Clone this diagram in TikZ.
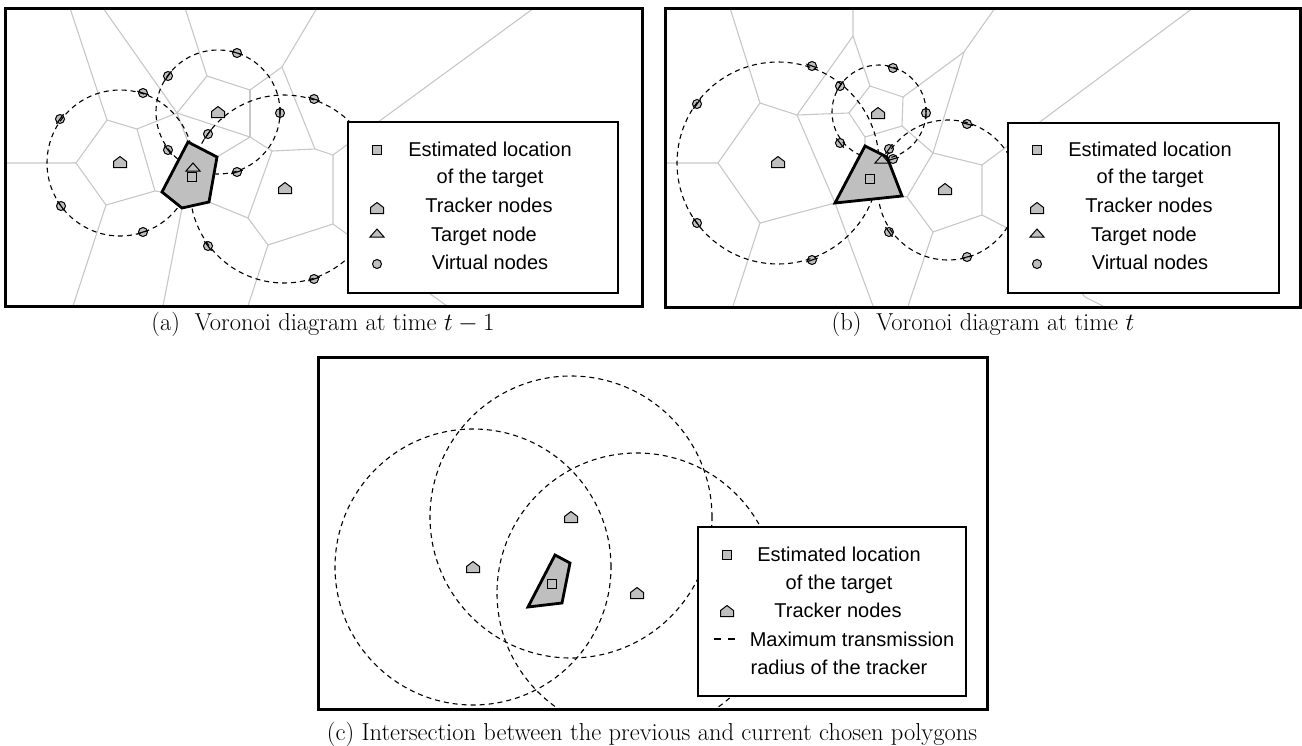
\documentclass[tikz,border=0pt]{standalone}
\usepackage{fontspec}
\newfontfamily\legfont{Liberation Sans}
\usetikzlibrary{calc}
\tikzset{
  frame/.style={draw, line width=3pt},
  vor/.style={draw=black!22, line width=1.1pt},
  rng/.style={draw, line width=1.1pt, dash pattern=on 5pt off 4pt},
  poly/.style={draw, line width=2.8pt, fill=black!25, line join=miter},
  mk/.style={draw, line width=1pt, fill=black!25},
  legbox/.style={draw, line width=1.2pt, fill=white},
  legtxt/.style={font=\legfont\fontsize{20}{24}\selectfont, inner sep=0pt, anchor=base},
  captxt/.style={font=\fontsize{24.5}{29}\selectfont, inner sep=0pt},
  trk/.pic={\path[mk] (-6.5,5.5) -- (6.5,5.5) -- (6.5,-0.5) -- (0,-5.5) -- (-6.5,-0.5) -- cycle;},
  sqr/.pic={\path[mk] (-4.5,-4.5) rectangle (4.5,4.5);},
  tri/.pic={\path[mk] (-7,4) -- (7,4) -- (0,-4) -- cycle;},
  vcirc/.pic={\path[mk] (0,0) circle[radius=4.5pt];},
}
\newcommand\vnd[2]{\pic at (#1) {vcirc}; \draw[line width=1.1pt] ($(#1)!6pt!90:(#2)$) -- ($(#1)!6pt!-90:(#2)$);}
\begin{document}
\begin{tikzpicture}[x=1pt,y=-1pt]
\useasboundingbox (0,0) rectangle (1302,745);
%================ panel (a)
\coordinate (a1) at (107,120); \coordinate (a2) at (76,163); \coordinate (a3) at (106,205);
\coordinate (a4) at (155,191); \coordinate (a5) at (137,129); \coordinate (a6) at (177,113);
\coordinate (a7) at (207,76); \coordinate (a8) at (250,90); \coordinate (a9) at (250,137);
\coordinate (a10) at (282,67); \coordinate (a11) at (272,151); \coordinate (a12) at (315,149);
\coordinate (a13) at (333,155); \coordinate (a14) at (333,224); \coordinate (a15) at (268,245);
\coordinate (a16) at (248,218);
\coordinate (ap1) at (188,142); \coordinate (ap2) at (217,157); \coordinate (ap3) at (209,202);
\coordinate (ap4) at (182,208); \coordinate (ap5) at (162,192);
\draw[vor] (70,8) -- (a1) -- (a2) -- (5,163);
\draw[vor] (a2) -- (a3) -- (73,306);
\draw[vor] (a3) -- (a4) -- (ap5);
\draw[vor] (a1) -- (a5) -- (a4);
\draw[vor] (a5) -- (a6);
\draw[vor] (103,8) -- (a6) -- (ap1);
\draw[vor] (a6) -- (a7) -- (185,8);
\draw[vor] (a7) -- (a8) -- (a10) -- (317,8);
\draw[vor] (a8) -- (a9);
\draw[vor] (a6) -- (a9) -- (ap2);
\draw[vor] (a9) -- (a11) -- (a12) -- (a13) -- (534,8);
\draw[vor] (a10) -- (a12);
\draw[vor] (a13) -- (a14) -- (447,306);
\draw[vor] (a11) -- (a16) -- (ap3);
\draw[vor] (a16) -- (a15) -- (a14);
\draw[vor] (a15) -- (248,306);
\draw[vor] (ap4) -- (163,306);
\coordinate (ca1) at (120,163); \coordinate (ca2) at (218,112); \coordinate (ca3) at (284,189);
\vnd{237,53}{ca2} \vnd{168,76}{ca2} \vnd{143,93}{ca1} \vnd{60,119}{ca1}
\vnd{314,99}{ca3} \vnd{280,113}{ca2} \vnd{208,134}{ca3} \vnd{168,150}{ca2}
\vnd{237,172}{ca2} \vnd{61,206}{ca1} \vnd{143,232}{ca1} \vnd{208,246}{ca3} \vnd{314,279}{ca3}
\draw[rng] (ca1) circle[radius=73pt];
\draw[rng] (ca2) circle[radius=62pt];
\draw[rng] (ca3) circle[radius=94pt];
\path[poly] (ap1) -- (ap2) -- (ap3) -- (ap4) -- (ap5) -- cycle;
\pic at (120,162) {trk}; \pic at (218,112) {trk}; \pic at (285,188) {trk};
\pic at (193,167) {tri}; \pic at (192,177) {sqr};
\draw[legbox] (348,122) rectangle (618,293);
\pic at (377,150) {sqr};
\node[legtxt] (la1) at (490,156) {Estimated location};
\node[legtxt] (la2) at (490,183) {of the target};
\pic at (377,208) {trk};
\node[legtxt] (la3) at (489,212) {Tracker nodes};
\pic at (377,233) {tri};
\node[legtxt] (la4) at (484,241) {Target node};
\pic at (377,264) {vcirc};
\node[legtxt] (la5) at (490,269) {Virtual nodes};
\draw[frame] (5,8) rectangle (642,306);
\node[captxt] (capa) at (323,324) {(a)\ \ Voronoi diagram at time $t-1$};
%================ panel (b)
\coordinate (b1) at (760,103); \coordinate (b2) at (718,163); \coordinate (b3) at (760,223);
\coordinate (b5) at (797,115); \coordinate (b6) at (849,113); \coordinate (b7) at (853,36);
\coordinate (b8) at (870,86); \coordinate (b9) at (903,97); \coordinate (b10) at (902,126);
\coordinate (b11) at (865,137); \coordinate (b12) at (964,52); \coordinate (b13) at (933,153);
\coordinate (b14) at (982,165); \coordinate (b15) at (982,215); \coordinate (b16) at (933,232);
\coordinate (b17) at (907,197);
\coordinate (bp1) at (865,146); \coordinate (bp2) at (887,157); \coordinate (bp3) at (902,196);
\coordinate (bp4) at (835,203);
\draw[vor] (730,8) -- (b1) -- (b2) -- (665,163);
\draw[vor] (b2) -- (b3) -- (733,306);
\draw[vor] (b3) -- (bp4) -- (873,306);
\draw[vor] (b1) -- (b5) -- (bp4);
\draw[vor] (b5) -- (b6);
\draw[vor] (b5) -- (b7) -- (853,8);
\draw[vor] (b7) -- (b8) -- (b9) -- (b12) -- (995,8);
\draw[vor] (b6) -- (b8);
\draw[vor] (b6) -- (b11) -- (bp1);
\draw[vor] (b9) -- (b10) -- (b11);
\draw[vor] (b10) -- (b13) -- (b14) -- (1193,8);
\draw[vor] (b12) -- (b13);
\draw[vor] (b13) -- (b17) -- (bp3);
\draw[vor] (b17) -- (b16) -- (b15) -- (b14);
\draw[vor] (b16) -- (908,306);
\draw[vor] (b15) -- (1040,245) -- (1085,297) -- (1103,306);
\coordinate (cb1) at (778,163); \coordinate (cb2) at (879,112); \coordinate (cb3) at (948,190);
\vnd{697,104}{cb1} \vnd{812,66}{cb1} \vnd{697,223}{cb1} \vnd{812,260}{cb1}
\vnd{840,143}{cb2} \vnd{840,86}{cb2} \vnd{893,68}{cb2} \vnd{926,113}{cb2} \vnd{893,159}{cb2}
\vnd{889,149}{cb3} \vnd{967,124}{cb3} \vnd{889,232}{cb3} \vnd{967,257}{cb3}
\draw[rng] (cb1) circle[radius=101pt];
\draw[rng] (cb2) circle[radius=47pt];
\draw[rng] (cb3) circle[radius=70pt];
\path[poly] (bp1) -- (bp2) -- (bp3) -- (bp4) -- cycle;
\pic at (778,162) {trk}; \pic at (878,113) {trk}; \pic at (945,189) {trk};
\pic at (882,159) {tri}; \pic at (870,179) {sqr};
\draw[legbox] (1008,123) rectangle (1279,293);
\pic at (1037,150) {sqr};
\node[legtxt] (lb1) at (1150,156) {Estimated location};
\node[legtxt] (lb2) at (1150,183) {of the target};
\pic at (1037,208) {trk};
\node[legtxt] (lb3) at (1149,212) {Tracker nodes};
\pic at (1037,233) {tri};
\node[legtxt] (lb4) at (1144,241) {Target node};
\pic at (1037,264) {vcirc};
\node[legtxt] (lb5) at (1150,269) {Virtual nodes};
\draw[frame] (665,8) rectangle (1300,307);
\node[captxt] (capb) at (983,324) {(b)\ \ Voronoi diagram at time $t$};
%================ panel (c)
\coordinate (cc1) at (473,567); \coordinate (cc2) at (571,517); \coordinate (cc3) at (637,593);
\begin{scope}
\clip (318,357) rectangle (987,709);
\draw[rng] (cc1) circle[radius=138pt];
\draw[rng] (cc2) circle[radius=141pt];
\draw[rng] (cc3) circle[radius=140pt];
\end{scope}
\path[poly] (555,555) -- (570,563) -- (562,603) -- (528,607) -- cycle;
\pic at (571,517) {trk}; \pic at (473,567) {trk}; \pic at (637,593) {trk};
\pic at (552,584) {sqr};
\draw[legbox] (698,527) rectangle (966,696);
\pic at (727,555) {sqr};
\node[legtxt] (lc1) at (839,561) {Estimated location};
\node[legtxt] (lc2) at (839,589) {of the target};
\pic at (727,611) {trk};
\node[legtxt] (lc3) at (838,617) {Tracker nodes};
\draw[line width=1.2pt] (714,639) -- (721,639) (728,639) -- (735,639);
\node[legtxt] (lc4) at (852,646) {Maximum transmission};
\node[legtxt] (lc5) at (839,674) {radius of the tracker};
\draw[frame] (318,357) rectangle (987,709);
\node[captxt] (capc) at (652,734) {(c) Intersection between the previous and current chosen polygons};
\end{tikzpicture}
\end{document}
